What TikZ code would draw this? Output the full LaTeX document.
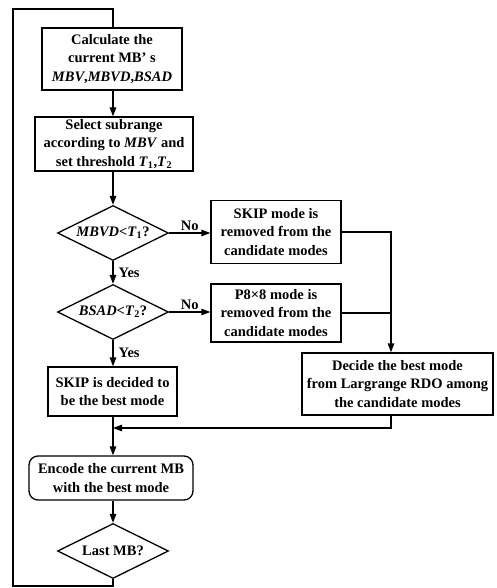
\documentclass[tikz,border=0pt]{standalone}
\usepackage{fontspec}
\setmainfont{Liberation Serif}
\usetikzlibrary{shapes.geometric,arrows.meta}
\begin{document}
\begin{tikzpicture}[x=1pt,y=-1pt,
  every node/.style={font=\bfseries\fontsize{14.5}{18.5}\selectfont},
  base/.style={draw,line width=1.3pt,align=center,inner sep=0pt},
  procbox/.style={base,rectangle},
  roundbox/.style={base,rectangle,rounded corners=9pt},
  decision/.style={base,diamond,aspect=2,inner sep=0pt,minimum width=111pt,minimum height=55pt},
  conn/.style={line width=1.3pt},
  arr/.style={conn,-{Triangle[length=9pt,width=6.5pt]}},
  lbl/.style={inner sep=1pt}
]
\useasboundingbox (0,0) rectangle (497,588);

\node[procbox,minimum width=140pt,minimum height=62pt] (box1) at (112,59)
  {Calculate the\\current MB’ s\\\textit{MBV},\textit{MBVD},\textit{BSAD}};
\node[procbox,minimum width=158pt,minimum height=54pt] (box2) at (114,144)
  {Select subrange\\according to \textit{MBV} and\\set threshold \textit{T}\textsubscript{1},\textit{T}\textsubscript{2}};
\node[decision] (d1) at (113,233) {\textit{MBVD}\textit{<}\textit{T}\textsubscript{1}?};
\node[decision] (d2) at (113,312) {\textit{BSAD}\textit{<}\textit{T}\textsubscript{2}?};
\node[procbox,minimum width=130pt,minimum height=63pt] (skip1) at (276,232)
  {SKIP mode is\\removed from the\\candidate modes};
\node[procbox,minimum width=130pt,minimum height=58pt] (p8) at (276,313)
  {P8×8 mode is\\removed from the\\candidate modes};
\node[procbox,minimum width=191pt,minimum height=62pt] (decide) at (397.5,384)
  {Decide the best mode\\from Largrange RDO among\\the candidate modes};
\node[procbox,minimum width=129pt,minimum height=49pt] (skip2) at (112.5,391.5)
  {SKIP is decided to\\be the best mode};
\node[roundbox,minimum width=164pt,minimum height=44pt] (enc) at (111,478)
  {Encode the current MB\\with the best mode};
\node[decision] (d3) at (113,551) {Last MB?};

\coordinate (main) at (113,0);
\coordinate (jx) at (391,0);
\coordinate (mrg) at (113,428);
\coordinate (bl) at (13,586);
\coordinate (tl) at (13,9);
\coordinate (tr) at (113,9);

% loop back
\draw[conn] (d3.south) |- (bl) -- (tl) -- (tr) -- (tr |- box1.north);
% main flow
\draw[arr] (main |- box1.south) -- (main |- box2.north);
\draw[arr] (main |- box2.south) -- (d1.north);
\draw[arr] (d1.south) -- (d2.north) node[lbl,midway,right=4pt] {Yes};
\draw[arr] (d2.south) -- (main |- skip2.north) node[lbl,midway,right=4pt] {Yes};
\draw[arr] (d1.east) -- (skip1.west |- d1.east) node[lbl,midway,above=1pt] {No};
\draw[arr] (d2.east) -- (p8.west |- d2.east) node[lbl,midway,above=1pt] {No};
\draw[arr] (skip1.east) -| (jx |- decide.north);
\draw[conn] (p8.east) -- (jx |- p8.east);
\draw[arr] (jx |- decide.south) |- (mrg);
\draw[arr] (main |- skip2.south) -- (main |- enc.north);
\draw[arr] (main |- enc.south) -- (d3.north);
\end{tikzpicture}
\end{document}
